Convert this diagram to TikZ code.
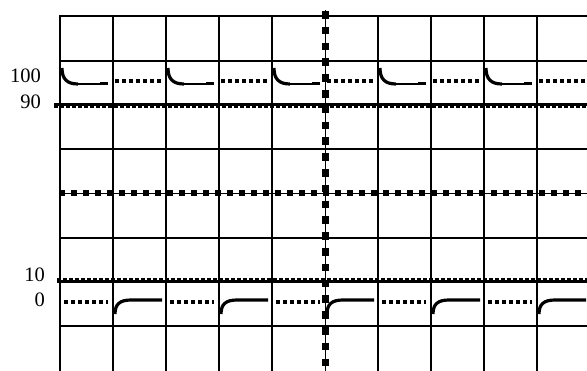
\documentclass[tikz,border=0pt]{standalone}
\usepackage{fontspec}
\setmainfont{Liberation Serif}
\begin{document}
\begin{tikzpicture}[x=1pt,y=-1pt,
  gridline/.style={line width=2pt},
  levelline/.style={line width=2.6pt},
  leveldash/.style={line width=1.6pt,dash pattern=on 4pt off 2pt},
  wave/.style={line width=3.2pt,line cap=butt},
  wavethin/.style={line width=2.4pt},
  dotline/.style={line width=3.2pt,dash pattern=on 3.5pt off 3.5pt},
  lbl/.style={font=\fontsize{20.5}{20.5}\selectfont,inner sep=0pt,anchor=east}]
\useasboundingbox (0,0) rectangle (587,370);
\clip (0,0) rectangle (587,370);
% grid verticals
\foreach \x in {60,113,166,219,272,378,431,484,537}
  \draw[gridline] (\x,15) -- (\x,372);
% grid horizontals
\foreach \y in {16,60.5,149,237.5,326}
  \draw[gridline] (59,\y) -- (590,\y);
% 90 and 10 levels
\draw[levelline] (54,104.5) -- (590,104.5);
\draw[leveldash] (54,106.8) -- (590,106.8);
\draw[levelline] (57,281.5) -- (590,281.5);
\draw[leveldash] (57,279.2) -- (590,279.2);
% centre axes (square dotted)
\draw[line width=0.9pt] (59,193) -- (590,193);
\draw[line width=5.5pt,dash pattern=on 5.5pt off 6.5pt] (59,193) -- (590,193);
\draw[line width=0.9pt] (325,10) -- (325,372);
\draw[line width=7pt,dash pattern=on 7.5pt off 8.3pt] (325,11) -- (325,372);
% top waveform (100 / 90)
\foreach \x in {60,166,272,378,484} {
  \draw[wave] (\x+2,68) .. controls (\x+2,79) and (\x+7,84) .. (\x+18,84);
  \draw[wavethin] (\x+16,84) -- (\x+41,84);
  \draw[line width=3.5pt] (\x+40,83.3) -- (\x+48,83.3);
  \draw[dotline] (\x+55,81) -- (\x+104,81);
}
% bottom waveform (10 / 0)
\foreach \x in {113,219,325,431,537} {
  \draw[wave] (\x+2,314) .. controls (\x+2,304) and (\x+7,300) .. (\x+18,300) -- (\x+49,300);
  \draw[dotline] (\x-49,302) -- (\x-5,302);
}
% labels
\node[lbl] (l100) at (41,76) {100};
\node[lbl] (l90) at (41,102) {90};
\node[lbl] (l10) at (45,275) {10};
\node[lbl] (l0) at (45,300) {0};
\end{tikzpicture}
\end{document}
